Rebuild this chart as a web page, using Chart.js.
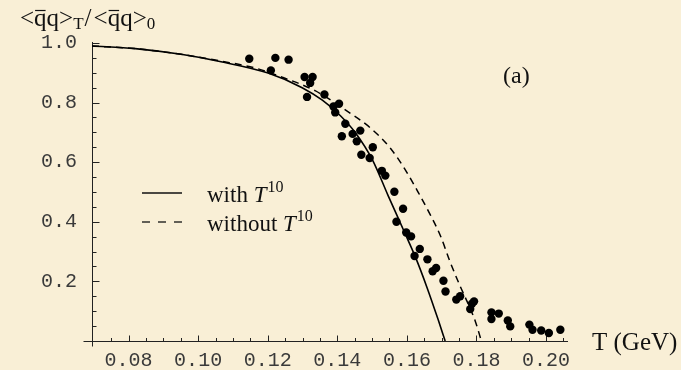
<!DOCTYPE html>
<html>
<head>
<meta charset="utf-8">
<script src="https://cdn.jsdelivr.net/npm/chart.js@4.4.0/dist/chart.umd.min.js"></script>
<style>
  html, body { margin: 0; padding: 0; background: #f9efd6; }
  #wrap { width: 681px; height: 370px; position: relative; }
</style>
</head>
<body>
<div id="wrap"><canvas id="c"></canvas></div>
<script>
// lattice points
const dotT = [0.1147, 0.1222, 0.1260, 0.1209, 0.1306, 0.1329, 0.1322, 0.1313, 0.1363, 0.1389,
    0.1405, 0.1394, 0.1423, 0.1466, 0.1413, 0.1444, 0.1456, 0.1502, 0.1469, 0.1493,
    0.1528, 0.1538, 0.1564, 0.1589, 0.1570, 0.1598, 0.1612, 0.1637, 0.1622, 0.1659,
    0.1674, 0.1684, 0.1705, 0.1711, 0.1742, 0.1753, 0.1787, 0.1793, 0.1782, 0.1843,
    0.1864, 0.1843, 0.1890, 0.1897, 0.1952, 0.1961, 0.1986, 0.2008, 0.2041];
const dotV = [0.947, 0.950, 0.944, 0.908, 0.886, 0.886, 0.866, 0.819, 0.827, 0.787,
    0.796, 0.767, 0.729, 0.706, 0.687, 0.695, 0.670, 0.650, 0.625, 0.614,
    0.571, 0.555, 0.501, 0.444, 0.400, 0.364, 0.351, 0.309, 0.285, 0.274,
    0.234, 0.245, 0.202, 0.166, 0.139, 0.150, 0.125, 0.133, 0.107, 0.096,
    0.092, 0.074, 0.069, 0.049, 0.055, 0.038, 0.035, 0.027, 0.038];

// with T^10
const withT = [0.0695, 0.0819, 0.0951, 0.1066, 0.1201, 0.1299, 0.1357, 0.1409, 0.1452, 0.1501,
    0.1546, 0.1595, 0.1624, 0.1658, 0.1690, 0.1710];
const withV = [0.990, 0.981, 0.962, 0.937, 0.899, 0.850, 0.808, 0.756, 0.699, 0.608,
    0.488, 0.360, 0.283, 0.179, 0.071, 0];

// without T^10
const withoutT = [0.0695, 0.0819, 0.0951, 0.1066, 0.1164, 0.1244, 0.1336, 0.1422, 0.1494, 0.1551,
    0.1595, 0.1633, 0.1667, 0.1696, 0.1725, 0.1753, 0.1777, 0.1797, 0.1814];
const withoutV = [0.990, 0.981, 0.962, 0.939, 0.916, 0.884, 0.840, 0.776, 0.716, 0.649,
    0.575, 0.498, 0.424, 0.354, 0.263, 0.184, 0.122, 0.065, 0];

const xTicks = [0.08, 0.10, 0.12, 0.14, 0.16, 0.18, 0.20];
const yTicks = [0.2, 0.4, 0.6, 0.8, 1.0];
const legendNames = ['with', 'without'];

const xMin = 0.0695, xMax = 0.2063;
const yMin = 0, yMax = 1.01;

const SERIF = '"Liberation Serif", "Times New Roman", serif';
const MONO = '"Liberation Mono", "Courier New", monospace';

function toPoints(xs, ys) {
    return xs.map((v, i) => ({x: v, y: ys[i]}));
}

function isMajor(v, list) {
    return list.some(t => Math.abs(t - v) < 1e-6);
}

const axesPlugin = {
    id: 'mmaAxes',
    beforeDatasetsDraw(chart) {
        const ctx = chart.ctx;
        const xs = chart.scales.x, ys = chart.scales.y;
        const x0 = Math.round(xs.getPixelForValue(xMin)) + 0.5;
        const y0 = Math.round(ys.getPixelForValue(0)) + 0.5;
        ctx.save();
        ctx.strokeStyle = '#222';
        ctx.lineWidth = 1;
        ctx.beginPath();
        ctx.moveTo(x0 - 9, y0);
        ctx.lineTo(xs.right, y0);
        ctx.moveTo(x0, ys.getPixelForValue(1.0) - 1);
        ctx.lineTo(x0, y0 + 5);
        for (let i = 15; i <= 41; i++) {
            const v = i * 0.005;
            const px = Math.round(xs.getPixelForValue(v)) + 0.5;
            const len = isMajor(v, xTicks) ? 6 : 3.5;
            ctx.moveTo(px, y0);
            ctx.lineTo(px, y0 - len);
        }
        for (let i = 1; i <= 20; i++) {
            const v = i * 0.05;
            const py = Math.round(ys.getPixelForValue(v)) + 0.5;
            const len = isMajor(v, yTicks) ? 7 : 4;
            ctx.moveTo(x0, py);
            ctx.lineTo(x0 + len, py);
        }
        ctx.stroke();
        ctx.restore();
    },
    afterDraw(chart) {
        const ctx = chart.ctx;
        ctx.save();
        ctx.fillStyle = '#111';
        ctx.strokeStyle = '#111';
        ctx.textBaseline = 'alphabetic';

        // y axis title  <qq>T/<qq>0
        let x = 20;
        const base = 26;
        const big = '25px ' + SERIF, small = '17px ' + SERIF;
        const piece = (txt, font, dy, bar) => {
            ctx.font = font;
            const w = ctx.measureText(txt).width;
            ctx.fillText(txt, x, base + dy);
            if (bar) {
                ctx.lineWidth = 1.2;
                ctx.beginPath();
                ctx.moveTo(x + 1, 10.5);
                ctx.lineTo(x + w - 1, 10.5);
                ctx.stroke();
            }
            x += w;
        };
        piece('<', big, 0); piece('q', big, 0, true); piece('q', big, 0); piece('>', big, 0);
        piece('T', small, 3);
        x += 1; piece('/', big, 0); x += 2;
        piece('<', big, 0); piece('q', big, 0, true); piece('q', big, 0); piece('>', big, 0);
        piece('0', small, 3);

        // panel label and x axis title
        ctx.font = '24px ' + SERIF;
        ctx.fillText('(a)', 503, 83);
        ctx.font = '25px ' + SERIF;
        ctx.fillText('T (GeV)', 592, 350);

        // legend
        const rows = [{y: 193, dash: []}, {y: 222, dash: [8, 8]}];
        rows.forEach((r, i) => {
            ctx.setLineDash(r.dash);
            ctx.lineWidth = 1.3;
            ctx.beginPath();
            ctx.moveTo(142, r.y);
            ctx.lineTo(182, r.y);
            ctx.stroke();
            ctx.setLineDash([]);
            let lx = 207;
            const by = r.y + 9;
            ctx.font = '23px ' + SERIF;
            const name = legendNames[i] + ' ';
            ctx.fillText(name, lx, by);
            lx += ctx.measureText(name).width;
            ctx.font = 'italic 23px ' + SERIF;
            ctx.fillText('T', lx, by);
            lx += ctx.measureText('T').width + 1;
            ctx.font = '16px ' + SERIF;
            ctx.fillText('10', lx, by - 10);
        });
        ctx.restore();
    }
};

const tickFont = {family: MONO, size: 20};

new Chart(document.getElementById('c'), {
    type: 'scatter',
    data: {
        datasets: [
            {
                label: 'lattice',
                data: toPoints(dotT, dotV),
                pointRadius: 4.2,
                pointBackgroundColor: '#000',
                pointBorderWidth: 0,
                showLine: false
            },
            {
                label: 'with T10',
                data: toPoints(withT, withV),
                showLine: true,
                pointRadius: 0,
                borderColor: '#000',
                borderWidth: 1.6,
                cubicInterpolationMode: 'monotone'
            },
            {
                label: 'without T10',
                data: toPoints(withoutT, withoutV),
                showLine: true,
                pointRadius: 0,
                borderColor: '#000',
                borderWidth: 1.5,
                borderDash: [7, 5],
                cubicInterpolationMode: 'monotone'
            }
        ]
    },
    options: {
        responsive: true,
        maintainAspectRatio: false,
        animation: false,
        layout: {padding: {top: 40, right: 113, left: 0, bottom: 0}},
        plugins: {legend: {display: false}, tooltip: {enabled: false}},
        scales: {
            x: {
                type: 'linear',
                min: xMin,
                max: xMax,
                grid: {display: false},
                border: {display: false},
                ticks: {
                    font: tickFont,
                    color: '#3a3a3a',
                    padding: 0,
                    maxRotation: 0,
                    callback: v => v.toFixed(2)
                },
                afterBuildTicks: s => { s.ticks = xTicks.map(v => ({value: v})); },
                afterFit: s => { s.height = 29; }
            },
            y: {
                min: yMin,
                max: yMax,
                grid: {display: false},
                border: {display: false},
                ticks: {
                    font: tickFont,
                    color: '#3a3a3a',
                    padding: 7,
                    callback: v => v.toFixed(1)
                },
                afterBuildTicks: s => { s.ticks = yTicks.map(v => ({value: v})); },
                afterFit: s => { s.width = 92; }
            }
        }
    },
    plugins: [axesPlugin]
});
</script>
</body>
</html>
